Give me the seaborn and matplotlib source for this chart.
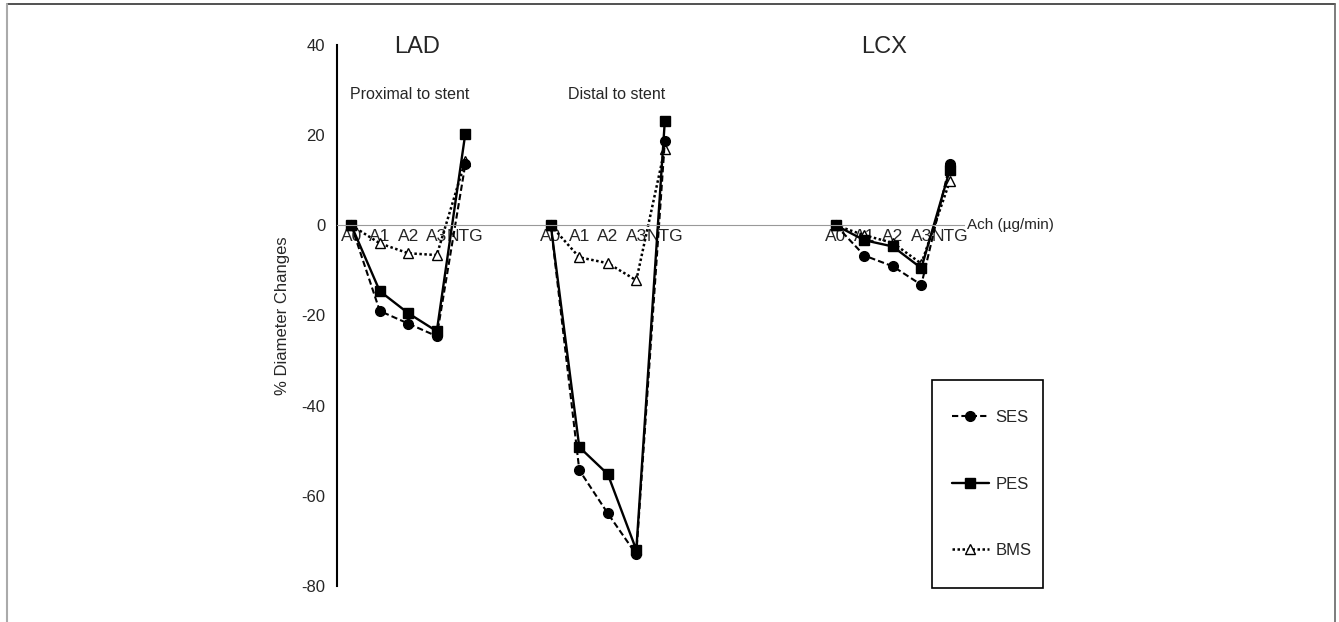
import numpy as np
import pandas as pd
import matplotlib
matplotlib.use("Agg")
import matplotlib.pyplot as plt
from matplotlib.lines import Line2D
from matplotlib.patches import Rectangle
import seaborn as sns

# Datos (% cambio de diametro)
doses = ["A0", "A1", "A2", "A3", "NTG"]
segments = ["Proximal", "Distal", "LCX"]
segment_start = [0, 7, 17]   # posicion de categoria del A0 de cada segmento
n_categories = 22

ses_prox = [0, -19.0, -21.8, -24.6, 13.5]
pes_prox = [0, -14.6, -19.5, -23.5, 20.3]
bms_prox = [0, -4.0, -6.2, -6.6, 14.3]

ses_dist = [0, -54.3, -63.9, -73.0, 18.6]
pes_dist = [0, -49.2, -55.2, -72.0, 23.1]
bms_dist = [0, -7.1, -8.4, -12.2, 17.0]

ses_lcx = [0, -6.7, -9.1, -13.2, 13.5]
pes_lcx = [0, -3.3, -4.7, -9.5, 12.3]
bms_lcx = [0, -2.2, -3.9, -8.5, 9.8]

values = {
    "Proximal": {"SES": ses_prox, "PES": pes_prox, "BMS": bms_prox},
    "Distal": {"SES": ses_dist, "PES": pes_dist, "BMS": bms_dist},
    "LCX": {"SES": ses_lcx, "PES": pes_lcx, "BMS": bms_lcx},
}

rows = []
for seg, start in zip(segments, segment_start):
    for stent, vals in values[seg].items():
        for i, (d, v) in enumerate(zip(doses, vals)):
            rows.append({"segmento": seg, "stent": stent, "dosis": d,
                         "pos": start + i, "valor": v})
df = pd.DataFrame(rows)

sns.set_style("white")
plt.rcParams["font.family"] = ["Liberation Sans", "DejaVu Sans"]
plt.rcParams["axes.unicode_minus"] = False

styles = {
    "SES": dict(marker="o", ls=(0, (3, 1.5)), mfc="black", ms=7, lw=1.5),
    "PES": dict(marker="s", ls="-", mfc="black", ms=7, lw=1.7),
    "BMS": dict(marker="^", ls=(0, (1, 1)), mfc="white", ms=7, lw=1.8),
}

fig = plt.figure(figsize=(13.39, 6.22), dpi=100)
ax = fig.add_axes([0.2517, 0.0579, 0.4683, 0.8698])

for seg in segments:
    for stent in ["BMS", "SES", "PES"]:
        sub = df[(df["segmento"] == seg) & (df["stent"] == stent)]
        st = styles[stent]
        sns.lineplot(data=sub, x="pos", y="valor", ax=ax, color="black",
                     linestyle=st["ls"], linewidth=st["lw"], marker=st["marker"],
                     markersize=st["ms"], markerfacecolor=st["mfc"],
                     markeredgecolor="black", markeredgewidth=1.0,
                     estimator=None, sort=False, legend=False)

ax.set_xlim(-0.5, n_categories - 0.5)
ax.set_ylim(-80, 40)

# eje x sobre la linea del cero
ax.spines["bottom"].set_position(("data", 0))
ax.spines["bottom"].set_color("#999999")
ax.spines["bottom"].set_linewidth(0.8)
ax.spines["top"].set_visible(False)
ax.spines["right"].set_visible(False)
ax.spines["left"].set_color("black")
ax.spines["left"].set_linewidth(1.5)

tick_pos = [s + i for s in segment_start for i in range(len(doses))]
tick_lab = doses * len(segment_start)
ax.set_xticks(tick_pos)
ax.set_xticklabels(tick_lab, fontsize=12.5)
ax.set_xticks(np.arange(-0.5, n_categories, 1.0), minor=True)
ax.tick_params(axis="x", which="major", length=0, pad=3)
ax.tick_params(axis="x", which="minor", length=3, color="#999999", direction="out")

ax.set_yticks([-80, -60, -40, -20, 0, 20, 40])
ax.tick_params(axis="y", length=5, width=1.2, color="black", labelsize=12, direction="out")
ax.set_xlabel("")
ax.set_ylabel("% Diameter Changes", fontsize=12, labelpad=8)

ax.text(2.3, 39.5, "LAD", fontsize=17, ha="center", va="center")
ax.text(18.7, 39.5, "LCX", fontsize=17, ha="center", va="center")
ax.text(2.06, 29.0, "Proximal to stent", fontsize=11.5, ha="center", va="center")
ax.text(9.3, 29.0, "Distal to stent", fontsize=11.5, ha="center", va="center")
ax.text(21.6, 0, "Ach (\u00b5g/min)", fontsize=11, ha="left", va="center")

handles = [Line2D([], [], color="black", linestyle=styles[s]["ls"], linewidth=styles[s]["lw"],
                  marker=styles[s]["marker"], markersize=styles[s]["ms"],
                  markerfacecolor=styles[s]["mfc"], markeredgecolor="black")
           for s in ["SES", "PES", "BMS"]]
leg = fig.legend(handles, ["SES", "PES", "BMS"], loc="upper left",
                 bbox_to_anchor=(0.711, 0.341), bbox_transform=fig.transFigure,
                 frameon=False, fontsize=12, labelspacing=3.1, borderpad=0,
                 handlelength=2.2, handletextpad=0.4, borderaxespad=0)

# caja de la leyenda
fig.add_artist(Rectangle((0.696, 0.0547), 0.083, 0.334, transform=fig.transFigure,
                         fill=False, edgecolor="black", lw=1.2))

# marco de la figura
fig.add_artist(Line2D([0.005, 0.997], [0.994, 0.994], transform=fig.transFigure, color="#333333", lw=1.2))
fig.add_artist(Line2D([0.005, 0.005], [0.0, 0.994], transform=fig.transFigure, color="#aaaaaa", lw=1.5))
fig.add_artist(Line2D([0.997, 0.997], [0.0, 0.994], transform=fig.transFigure, color="#666666", lw=1.2))

fig.savefig("out.png", dpi=100)
